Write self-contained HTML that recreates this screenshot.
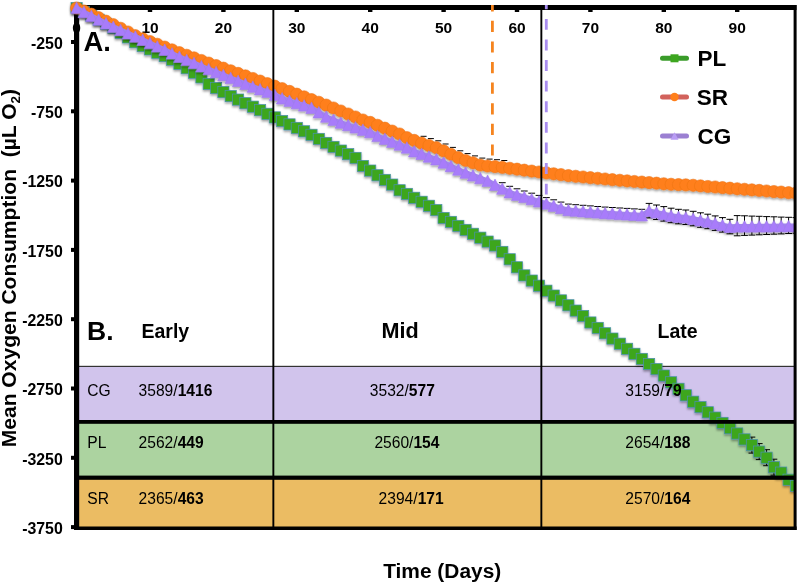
<!DOCTYPE html>
<html><head><meta charset="utf-8"><title>Mean Oxygen Consumption</title>
<style>html,body{margin:0;padding:0;background:#fff}svg{display:block;filter:blur(0.4px)}text{font-family:"Liberation Sans",Arial,sans-serif;fill:#000}.b{font-weight:bold}</style>
</head><body>
<svg width="800" height="583" viewBox="0 0 800 583">
<rect width="800" height="583" fill="#fff"/>
<rect x="77" y="366.5" width="718" height="54" fill="#D1C4EC"/>
<rect x="77" y="423" width="718" height="53" fill="#ACD3A0"/>
<rect x="77" y="479" width="718" height="48" fill="#EBBC63"/>
<rect x="77" y="365.8" width="718" height="1.2" fill="#333"/>
<rect x="74" y="5" width="5.2" height="525" fill="#000"/>
<rect x="74" y="5" width="722.5" height="5" fill="#000"/>
<rect x="147.8" y="9" width="4.4" height="3" fill="#000"/>
<rect x="221.2" y="9" width="4.4" height="3" fill="#000"/>
<rect x="294.6" y="9" width="4.4" height="3" fill="#000"/>
<rect x="368.0" y="9" width="4.4" height="3" fill="#000"/>
<rect x="441.4" y="9" width="4.4" height="3" fill="#000"/>
<rect x="514.8" y="9" width="4.4" height="3" fill="#000"/>
<rect x="588.2" y="9" width="4.4" height="3" fill="#000"/>
<rect x="661.6" y="9" width="4.4" height="3" fill="#000"/>
<rect x="735.0" y="9" width="4.4" height="3" fill="#000"/>
<rect x="71" y="40.0" width="4" height="4" fill="#000"/>
<rect x="71" y="109.3" width="4" height="4" fill="#000"/>
<rect x="71" y="178.6" width="4" height="4" fill="#000"/>
<rect x="71" y="247.9" width="4" height="4" fill="#000"/>
<rect x="71" y="317.2" width="4" height="4" fill="#000"/>
<rect x="71" y="386.5" width="4" height="4" fill="#000"/>
<rect x="71" y="455.8" width="4" height="4" fill="#000"/>
<rect x="71" y="525.1" width="4" height="4" fill="#000"/>
<g class="b" font-size="15.5" text-anchor="middle">
<text x="76.6" y="33">0</text>
<text x="150.0" y="33">10</text>
<text x="223.4" y="33">20</text>
<text x="296.8" y="33">30</text>
<text x="370.2" y="33">40</text>
<text x="443.6" y="33">50</text>
<text x="517.0" y="33">60</text>
<text x="590.4" y="33">70</text>
<text x="663.8" y="33">80</text>
<text x="737.2" y="33">90</text>
</g>
<g class="b" font-size="15.9" text-anchor="end">
<text x="62.8" y="48.7">-250</text>
<text x="62.8" y="118.0">-750</text>
<text x="62.8" y="187.3">-1250</text>
<text x="62.8" y="256.6">-1750</text>
<text x="62.8" y="325.9">-2250</text>
<text x="62.8" y="395.2">-2750</text>
<text x="62.8" y="464.5">-3250</text>
<text x="62.8" y="533.8">-3750</text>
</g>
<defs><clipPath id="cp"><rect x="0" y="0" width="794.5" height="583"/></clipPath><clipPath id="cd"><rect x="0" y="5" width="800" height="578"/></clipPath></defs>
<g stroke="#000" stroke-width="1" fill="none" clip-path="url(#cp)">
<path d="M498.9 182.7h6.8"/>
<path d="M506.3 186.3h6.8"/>
<path d="M513.6 188.8h6.8"/>
<path d="M520.9 191.0h6.8"/>
<path d="M528.3 193.2h6.8"/>
<path d="M535.6 195.4h6.8"/>
<path d="M543.0 197.6h6.8"/>
<path d="M550.3 199.8h6.8"/>
<path d="M557.6 202.1h6.8"/>
<path d="M565.0 204.1h6.8"/>
<path d="M572.3 204.7h6.8"/>
<path d="M579.7 205.3h6.8"/>
<path d="M587.0 205.9h6.8"/>
<path d="M594.3 206.5h6.8"/>
<path d="M601.7 207.1h6.8"/>
<path d="M609.0 207.5h6.8"/>
<path d="M616.4 208.0h6.8"/>
<path d="M623.7 208.4h6.8"/>
<path d="M631.0 208.9h6.8"/>
<path d="M638.4 209.3h6.8"/>
<path d="M645.7 203.4h6.8M645.7 217.9h6.8M649.1 203.4V217.9"/>
<path d="M653.1 205.0h6.8M653.1 219.5h6.8M656.5 205.0V219.5"/>
<path d="M660.4 206.6h6.8M660.4 221.1h6.8M663.8 206.6V221.1"/>
<path d="M667.7 208.2h6.8M667.7 222.7h6.8M671.1 208.2V222.7"/>
<path d="M675.1 209.3h6.8M675.1 223.8h6.8M678.5 209.3V223.8"/>
<path d="M682.4 210.0h6.8M682.4 224.5h6.8M685.8 210.0V224.5"/>
<path d="M689.8 211.3h6.8M689.8 225.8h6.8M693.2 211.3V225.8"/>
<path d="M697.1 212.8h6.8M697.1 227.3h6.8M700.5 212.8V227.3"/>
<path d="M704.4 214.2h6.8M704.4 228.7h6.8M707.8 214.2V228.7"/>
<path d="M711.8 215.9h6.8M711.8 230.4h6.8M715.2 215.9V230.4"/>
<path d="M719.1 217.6h6.8M719.1 232.1h6.8M722.5 217.6V232.1"/>
<path d="M726.5 219.3h6.8M726.5 233.8h6.8M729.9 219.3V233.8"/>
<path d="M733.8 215.6h6.8M733.8 235.8h6.8M737.2 215.6V235.8"/>
<path d="M741.1 215.8h6.8M741.1 235.4h6.8M744.5 215.8V235.4"/>
<path d="M748.5 216.1h6.8M748.5 235.1h6.8M751.9 216.1V235.1"/>
<path d="M755.8 216.3h6.8M755.8 234.8h6.8M759.2 216.3V234.8"/>
<path d="M763.2 216.6h6.8M763.2 234.5h6.8M766.6 216.6V234.5"/>
<path d="M770.5 216.8h6.8M770.5 234.2h6.8M773.9 216.8V234.2"/>
<path d="M777.8 217.1h6.8M777.8 233.9h6.8M781.2 217.1V233.9"/>
<path d="M785.2 217.3h6.8M785.2 233.5h6.8M788.6 217.3V233.5"/>
<path d="M792.5 217.6h6.8M792.5 233.2h6.8M795.9 217.6V233.2"/>
<path d="M420.6 136.3h6.0"/>
<path d="M427.9 138.6h6.0"/>
<path d="M435.3 140.8h6.0"/>
<path d="M442.6 144.0h6.0"/>
<path d="M449.9 147.4h6.0"/>
<path d="M457.3 150.8h6.0"/>
<path d="M464.6 153.6h6.0"/>
<path d="M472.0 155.9h6.0"/>
<path d="M479.3 158.1h6.0"/>
<path d="M486.6 159.1h6.0"/>
<path d="M494.0 159.7h6.0"/>
<path d="M501.3 160.5h6.0"/>
<path d="M748.5 437.1h6.8M748.5 453.1h6.8M751.9 437.1V453.1"/>
<path d="M755.8 443.6h6.8M755.8 459.6h6.8M759.2 443.6V459.6"/>
<path d="M763.2 449.7h6.8M763.2 465.7h6.8M766.6 449.7V465.7"/>
<path d="M770.5 459.2h6.8M770.5 475.2h6.8M773.9 459.2V475.2"/>
</g>
<defs><filter id="sh" x="-5%" y="-5%" width="110%" height="115%"><feDropShadow dx="0" dy="1.6" stdDeviation="1" flood-color="#000" flood-opacity="0.38"/></filter></defs>
<g clip-path="url(#cp)">
<g filter="url(#sh)">
<polyline points="76.6,8.0 83.9,11.9 91.3,15.8 98.6,19.8 106.0,23.8 113.3,27.9 120.6,32.7 128.0,37.4 135.3,42.2 142.7,46.1 150.0,49.4 157.3,52.7 164.7,56.1 172.0,59.7 179.4,63.8 186.7,68.2 194.0,72.7 201.4,77.4 208.7,83.9 216.1,88.0 223.4,92.1 230.7,96.1 238.1,99.6 245.4,103.2 252.8,106.7 260.1,110.2 267.4,113.8 274.8,117.4 282.1,121.0 289.5,124.4 296.8,127.9 304.1,131.3 311.5,134.8 318.8,138.9 326.2,142.9 333.5,146.9 340.8,150.6 348.2,154.2 355.5,157.9 362.9,166.0 370.2,170.6 377.5,175.3 384.9,179.9 392.2,184.6 399.6,190.3 406.9,193.9 414.2,197.8 421.6,201.8 428.9,205.8 436.3,210.1 443.6,218.0 450.9,221.9 458.3,225.9 465.6,229.9 473.0,233.8 480.3,237.7 487.6,241.6 495.0,245.5 502.3,251.9 509.7,259.3 517.0,267.3 524.3,275.4 531.7,280.6 539.0,285.7 546.4,290.7 553.7,295.6 561.0,300.4 568.4,305.3 575.7,310.6 583.1,316.0 590.4,322.5 597.7,327.9 605.1,333.3 612.4,338.6 619.8,343.7 627.1,348.8 634.4,353.8 641.8,358.9 649.1,364.0 656.5,369.1 663.8,375.6 671.1,382.3 678.5,388.8 685.8,395.3 693.2,401.7 700.5,407.1 707.8,412.3 715.2,417.6 722.5,422.9 729.9,428.2 737.2,433.5 744.5,439.4 751.9,445.1 759.2,451.6 766.6,457.7 773.9,467.2 781.2,472.6 788.6,479.7 795.9,485.9" fill="none" stroke="#3A9C2A" stroke-width="5" stroke-linejoin="round"/>
<g fill="#3DA61F" stroke="#4A8FB0" stroke-width="0.7">
<rect x="71.0" y="2.4" width="11.2" height="11.2"/>
<rect x="78.3" y="6.3" width="11.2" height="11.2"/>
<rect x="85.7" y="10.2" width="11.2" height="11.2"/>
<rect x="93.0" y="14.2" width="11.2" height="11.2"/>
<rect x="100.4" y="18.2" width="11.2" height="11.2"/>
<rect x="107.7" y="22.3" width="11.2" height="11.2"/>
<rect x="115.0" y="27.1" width="11.2" height="11.2"/>
<rect x="122.4" y="31.8" width="11.2" height="11.2"/>
<rect x="129.7" y="36.6" width="11.2" height="11.2"/>
<rect x="137.1" y="40.5" width="11.2" height="11.2"/>
<rect x="144.4" y="43.8" width="11.2" height="11.2"/>
<rect x="151.7" y="47.1" width="11.2" height="11.2"/>
<rect x="159.1" y="50.5" width="11.2" height="11.2"/>
<rect x="166.4" y="54.1" width="11.2" height="11.2"/>
<rect x="173.8" y="58.2" width="11.2" height="11.2"/>
<rect x="181.1" y="62.6" width="11.2" height="11.2"/>
<rect x="188.4" y="67.1" width="11.2" height="11.2"/>
<rect x="195.8" y="71.8" width="11.2" height="11.2"/>
<rect x="203.1" y="78.3" width="11.2" height="11.2"/>
<rect x="210.5" y="82.4" width="11.2" height="11.2"/>
<rect x="217.8" y="86.5" width="11.2" height="11.2"/>
<rect x="225.1" y="90.5" width="11.2" height="11.2"/>
<rect x="232.5" y="94.0" width="11.2" height="11.2"/>
<rect x="239.8" y="97.6" width="11.2" height="11.2"/>
<rect x="247.2" y="101.1" width="11.2" height="11.2"/>
<rect x="254.5" y="104.6" width="11.2" height="11.2"/>
<rect x="261.8" y="108.2" width="11.2" height="11.2"/>
<rect x="269.2" y="111.8" width="11.2" height="11.2"/>
<rect x="276.5" y="115.4" width="11.2" height="11.2"/>
<rect x="283.9" y="118.8" width="11.2" height="11.2"/>
<rect x="291.2" y="122.3" width="11.2" height="11.2"/>
<rect x="298.5" y="125.7" width="11.2" height="11.2"/>
<rect x="305.9" y="129.2" width="11.2" height="11.2"/>
<rect x="313.2" y="133.3" width="11.2" height="11.2"/>
<rect x="320.6" y="137.3" width="11.2" height="11.2"/>
<rect x="327.9" y="141.3" width="11.2" height="11.2"/>
<rect x="335.2" y="145.0" width="11.2" height="11.2"/>
<rect x="342.6" y="148.6" width="11.2" height="11.2"/>
<rect x="349.9" y="152.3" width="11.2" height="11.2"/>
<rect x="357.3" y="160.4" width="11.2" height="11.2"/>
<rect x="364.6" y="165.0" width="11.2" height="11.2"/>
<rect x="371.9" y="169.7" width="11.2" height="11.2"/>
<rect x="379.3" y="174.3" width="11.2" height="11.2"/>
<rect x="386.6" y="179.0" width="11.2" height="11.2"/>
<rect x="394.0" y="184.7" width="11.2" height="11.2"/>
<rect x="401.3" y="188.3" width="11.2" height="11.2"/>
<rect x="408.6" y="192.2" width="11.2" height="11.2"/>
<rect x="416.0" y="196.2" width="11.2" height="11.2"/>
<rect x="423.3" y="200.2" width="11.2" height="11.2"/>
<rect x="430.7" y="204.5" width="11.2" height="11.2"/>
<rect x="438.0" y="212.4" width="11.2" height="11.2"/>
<rect x="445.3" y="216.3" width="11.2" height="11.2"/>
<rect x="452.7" y="220.3" width="11.2" height="11.2"/>
<rect x="460.0" y="224.3" width="11.2" height="11.2"/>
<rect x="467.4" y="228.2" width="11.2" height="11.2"/>
<rect x="474.7" y="232.1" width="11.2" height="11.2"/>
<rect x="482.0" y="236.0" width="11.2" height="11.2"/>
<rect x="489.4" y="239.9" width="11.2" height="11.2"/>
<rect x="496.7" y="246.3" width="11.2" height="11.2"/>
<rect x="504.1" y="253.7" width="11.2" height="11.2"/>
<rect x="511.4" y="261.7" width="11.2" height="11.2"/>
<rect x="518.7" y="269.8" width="11.2" height="11.2"/>
<rect x="526.1" y="275.0" width="11.2" height="11.2"/>
<rect x="533.4" y="280.1" width="11.2" height="11.2"/>
<rect x="540.8" y="285.1" width="11.2" height="11.2"/>
<rect x="548.1" y="290.0" width="11.2" height="11.2"/>
<rect x="555.4" y="294.8" width="11.2" height="11.2"/>
<rect x="562.8" y="299.7" width="11.2" height="11.2"/>
<rect x="570.1" y="305.0" width="11.2" height="11.2"/>
<rect x="577.5" y="310.4" width="11.2" height="11.2"/>
<rect x="584.8" y="316.9" width="11.2" height="11.2"/>
<rect x="592.1" y="322.3" width="11.2" height="11.2"/>
<rect x="599.5" y="327.7" width="11.2" height="11.2"/>
<rect x="606.8" y="333.0" width="11.2" height="11.2"/>
<rect x="614.2" y="338.1" width="11.2" height="11.2"/>
<rect x="621.5" y="343.2" width="11.2" height="11.2"/>
<rect x="628.8" y="348.2" width="11.2" height="11.2"/>
<rect x="636.2" y="353.3" width="11.2" height="11.2"/>
<rect x="643.5" y="358.4" width="11.2" height="11.2"/>
<rect x="650.9" y="363.5" width="11.2" height="11.2"/>
<rect x="658.2" y="370.0" width="11.2" height="11.2"/>
<rect x="665.5" y="376.7" width="11.2" height="11.2"/>
<rect x="672.9" y="383.2" width="11.2" height="11.2"/>
<rect x="680.2" y="389.7" width="11.2" height="11.2"/>
<rect x="687.6" y="396.1" width="11.2" height="11.2"/>
<rect x="694.9" y="401.5" width="11.2" height="11.2"/>
<rect x="702.2" y="406.7" width="11.2" height="11.2"/>
<rect x="709.6" y="412.0" width="11.2" height="11.2"/>
<rect x="716.9" y="417.3" width="11.2" height="11.2"/>
<rect x="724.3" y="422.6" width="11.2" height="11.2"/>
<rect x="731.6" y="427.9" width="11.2" height="11.2"/>
<rect x="738.9" y="433.8" width="11.2" height="11.2"/>
<rect x="746.3" y="439.5" width="11.2" height="11.2"/>
<rect x="753.6" y="446.0" width="11.2" height="11.2"/>
<rect x="761.0" y="452.1" width="11.2" height="11.2"/>
<rect x="768.3" y="461.6" width="11.2" height="11.2"/>
<rect x="775.6" y="467.0" width="11.2" height="11.2"/>
<rect x="783.0" y="474.1" width="11.2" height="11.2"/>
<rect x="790.3" y="480.3" width="11.2" height="11.2"/>
</g></g>
<g filter="url(#sh)">
<polyline points="76.6,8.0 83.9,11.0 91.3,14.2 98.6,17.7 106.0,21.2 113.3,24.7 120.6,28.3 128.0,32.0 135.3,35.7 142.7,38.8 150.0,41.6 157.3,44.3 164.7,47.1 172.0,49.9 179.4,52.7 186.7,55.3 194.0,57.9 201.4,60.5 208.7,63.1 216.1,65.6 223.4,68.2 230.7,70.8 238.1,73.4 245.4,75.9 252.8,78.5 260.1,81.1 267.4,83.7 274.8,86.2 282.1,88.7 289.5,91.4 296.8,94.2 304.1,96.9 311.5,99.6 318.8,102.3 326.2,105.1 333.5,108.0 340.8,111.0 348.2,114.0 355.5,117.0 362.9,120.0 370.2,122.4 377.5,125.3 384.9,128.2 392.2,131.1 399.6,134.0 406.9,137.7 414.2,140.4 421.6,143.2 428.9,145.5 436.3,147.7 443.6,150.9 450.9,154.3 458.3,157.7 465.6,160.5 473.0,162.8 480.3,165.0 487.6,166.0 495.0,166.6 502.3,167.4 509.7,168.3 517.0,169.2 524.3,170.2 531.7,171.1 539.0,172.0 546.4,172.9 553.7,173.8 561.0,174.7 568.4,175.6 575.7,176.3 583.1,177.0 590.4,177.7 597.7,178.3 605.1,179.0 612.4,179.7 619.8,180.3 627.1,180.9 634.4,181.5 641.8,182.1 649.1,182.6 656.5,183.2 663.8,183.8 671.1,184.3 678.5,184.6 685.8,184.9 693.2,185.3 700.5,185.9 707.8,186.5 715.2,187.0 722.5,187.6 729.9,188.2 737.2,188.8 744.5,189.3 751.9,189.9 759.2,190.4 766.6,191.0 773.9,191.6 781.2,192.1 788.6,192.7 795.9,193.2" fill="none" stroke="#D2625C" stroke-width="5" stroke-linejoin="round"/>
<g fill="#FF7F1B" stroke="#EE761A" stroke-width="0.6">
<circle cx="76.6" cy="8.0" r="6.1"/>
<circle cx="83.9" cy="11.0" r="6.1"/>
<circle cx="91.3" cy="14.2" r="6.1"/>
<circle cx="98.6" cy="17.7" r="6.1"/>
<circle cx="106.0" cy="21.2" r="6.1"/>
<circle cx="113.3" cy="24.7" r="6.1"/>
<circle cx="120.6" cy="28.3" r="6.1"/>
<circle cx="128.0" cy="32.0" r="6.1"/>
<circle cx="135.3" cy="35.7" r="6.1"/>
<circle cx="142.7" cy="38.8" r="6.1"/>
<circle cx="150.0" cy="41.6" r="6.1"/>
<circle cx="157.3" cy="44.3" r="6.1"/>
<circle cx="164.7" cy="47.1" r="6.1"/>
<circle cx="172.0" cy="49.9" r="6.1"/>
<circle cx="179.4" cy="52.7" r="6.1"/>
<circle cx="186.7" cy="55.3" r="6.1"/>
<circle cx="194.0" cy="57.9" r="6.1"/>
<circle cx="201.4" cy="60.5" r="6.1"/>
<circle cx="208.7" cy="63.1" r="6.1"/>
<circle cx="216.1" cy="65.6" r="6.1"/>
<circle cx="223.4" cy="68.2" r="6.1"/>
<circle cx="230.7" cy="70.8" r="6.1"/>
<circle cx="238.1" cy="73.4" r="6.1"/>
<circle cx="245.4" cy="75.9" r="6.1"/>
<circle cx="252.8" cy="78.5" r="6.1"/>
<circle cx="260.1" cy="81.1" r="6.1"/>
<circle cx="267.4" cy="83.7" r="6.1"/>
<circle cx="274.8" cy="86.2" r="6.1"/>
<circle cx="282.1" cy="88.7" r="6.1"/>
<circle cx="289.5" cy="91.4" r="6.1"/>
<circle cx="296.8" cy="94.2" r="6.1"/>
<circle cx="304.1" cy="96.9" r="6.1"/>
<circle cx="311.5" cy="99.6" r="6.1"/>
<circle cx="318.8" cy="102.3" r="6.1"/>
<circle cx="326.2" cy="105.1" r="6.1"/>
<circle cx="333.5" cy="108.0" r="6.1"/>
<circle cx="340.8" cy="111.0" r="6.1"/>
<circle cx="348.2" cy="114.0" r="6.1"/>
<circle cx="355.5" cy="117.0" r="6.1"/>
<circle cx="362.9" cy="120.0" r="6.1"/>
<circle cx="370.2" cy="122.4" r="6.1"/>
<circle cx="377.5" cy="125.3" r="6.1"/>
<circle cx="384.9" cy="128.2" r="6.1"/>
<circle cx="392.2" cy="131.1" r="6.1"/>
<circle cx="399.6" cy="134.0" r="6.1"/>
<circle cx="406.9" cy="137.7" r="6.1"/>
<circle cx="414.2" cy="140.4" r="6.1"/>
<circle cx="421.6" cy="143.2" r="6.1"/>
<circle cx="428.9" cy="145.5" r="6.1"/>
<circle cx="436.3" cy="147.7" r="6.1"/>
<circle cx="443.6" cy="150.9" r="6.1"/>
<circle cx="450.9" cy="154.3" r="6.1"/>
<circle cx="458.3" cy="157.7" r="6.1"/>
<circle cx="465.6" cy="160.5" r="6.1"/>
<circle cx="473.0" cy="162.8" r="6.1"/>
<circle cx="480.3" cy="165.0" r="6.1"/>
<circle cx="487.6" cy="166.0" r="6.1"/>
<circle cx="495.0" cy="166.6" r="6.1"/>
<circle cx="502.3" cy="167.4" r="6.1"/>
<circle cx="509.7" cy="168.3" r="6.1"/>
<circle cx="517.0" cy="169.2" r="6.1"/>
<circle cx="524.3" cy="170.2" r="6.1"/>
<circle cx="531.7" cy="171.1" r="6.1"/>
<circle cx="539.0" cy="172.0" r="6.1"/>
<circle cx="546.4" cy="172.9" r="6.1"/>
<circle cx="553.7" cy="173.8" r="6.1"/>
<circle cx="561.0" cy="174.7" r="6.1"/>
<circle cx="568.4" cy="175.6" r="6.1"/>
<circle cx="575.7" cy="176.3" r="6.1"/>
<circle cx="583.1" cy="177.0" r="6.1"/>
<circle cx="590.4" cy="177.7" r="6.1"/>
<circle cx="597.7" cy="178.3" r="6.1"/>
<circle cx="605.1" cy="179.0" r="6.1"/>
<circle cx="612.4" cy="179.7" r="6.1"/>
<circle cx="619.8" cy="180.3" r="6.1"/>
<circle cx="627.1" cy="180.9" r="6.1"/>
<circle cx="634.4" cy="181.5" r="6.1"/>
<circle cx="641.8" cy="182.1" r="6.1"/>
<circle cx="649.1" cy="182.6" r="6.1"/>
<circle cx="656.5" cy="183.2" r="6.1"/>
<circle cx="663.8" cy="183.8" r="6.1"/>
<circle cx="671.1" cy="184.3" r="6.1"/>
<circle cx="678.5" cy="184.6" r="6.1"/>
<circle cx="685.8" cy="184.9" r="6.1"/>
<circle cx="693.2" cy="185.3" r="6.1"/>
<circle cx="700.5" cy="185.9" r="6.1"/>
<circle cx="707.8" cy="186.5" r="6.1"/>
<circle cx="715.2" cy="187.0" r="6.1"/>
<circle cx="722.5" cy="187.6" r="6.1"/>
<circle cx="729.9" cy="188.2" r="6.1"/>
<circle cx="737.2" cy="188.8" r="6.1"/>
<circle cx="744.5" cy="189.3" r="6.1"/>
<circle cx="751.9" cy="189.9" r="6.1"/>
<circle cx="759.2" cy="190.4" r="6.1"/>
<circle cx="766.6" cy="191.0" r="6.1"/>
<circle cx="773.9" cy="191.6" r="6.1"/>
<circle cx="781.2" cy="192.1" r="6.1"/>
<circle cx="788.6" cy="192.7" r="6.1"/>
<circle cx="795.9" cy="193.2" r="6.1"/>
</g></g>
<g filter="url(#sh)">
<polyline points="76.6,8.0 83.9,12.1 91.3,16.0 98.6,19.6 106.0,23.3 113.3,26.9 120.6,30.1 128.0,33.4 135.3,36.6 142.7,39.9 150.0,43.2 157.3,46.5 164.7,49.8 172.0,53.5 179.4,56.9 186.7,60.0 194.0,63.1 201.4,66.3 208.7,69.2 216.1,72.1 223.4,75.1 230.7,78.0 238.1,80.9 245.4,83.9 252.8,86.7 260.1,89.3 267.4,91.8 274.8,94.8 282.1,98.4 289.5,100.8 296.8,103.2 304.1,105.5 311.5,107.9 318.8,112.3 326.2,116.7 333.5,119.8 340.8,122.7 348.2,125.1 355.5,127.4 362.9,129.8 370.2,132.2 377.5,136.0 384.9,138.9 392.2,141.8 399.6,144.6 406.9,147.6 414.2,151.3 421.6,153.9 428.9,156.6 436.3,159.3 443.6,162.6 450.9,166.1 458.3,169.6 465.6,172.7 473.0,175.4 480.3,178.2 487.6,180.8 495.0,184.9 502.3,188.7 509.7,192.3 517.0,194.8 524.3,197.0 531.7,199.2 539.0,201.4 546.4,203.6 553.7,205.8 561.0,208.1 568.4,210.1 575.7,210.7 583.1,211.3 590.4,211.9 597.7,212.5 605.1,213.1 612.4,213.5 619.8,214.0 627.1,214.4 634.4,214.9 641.8,215.3 649.1,210.9 656.5,212.5 663.8,214.1 671.1,215.7 678.5,216.8 685.8,217.5 693.2,218.8 700.5,220.3 707.8,221.7 715.2,223.4 722.5,225.1 729.9,226.8 737.2,226.5 744.5,226.4 751.9,226.4 759.2,226.3 766.6,226.3 773.9,226.2 781.2,226.1 788.6,226.1 795.9,226.0" fill="none" stroke="#A283EE" stroke-width="5" stroke-linejoin="round"/>
<g fill="#A87CFA" stroke="#9E7AEC" stroke-width="0.6">
<path d="M76.6 2.2L82.3 13.6H70.9Z"/>
<path d="M83.9 6.3L89.6 17.7H78.2Z"/>
<path d="M91.3 10.2L97.0 21.6H85.6Z"/>
<path d="M98.6 13.8L104.3 25.2H92.9Z"/>
<path d="M106.0 17.5L111.7 28.9H100.3Z"/>
<path d="M113.3 21.1L119.0 32.5H107.6Z"/>
<path d="M120.6 24.3L126.3 35.7H114.9Z"/>
<path d="M128.0 27.6L133.7 39.0H122.3Z"/>
<path d="M135.3 30.8L141.0 42.2H129.6Z"/>
<path d="M142.7 34.1L148.4 45.5H137.0Z"/>
<path d="M150.0 37.4L155.7 48.8H144.3Z"/>
<path d="M157.3 40.7L163.0 52.1H151.6Z"/>
<path d="M164.7 44.0L170.4 55.4H159.0Z"/>
<path d="M172.0 47.7L177.7 59.1H166.3Z"/>
<path d="M179.4 51.1L185.1 62.5H173.7Z"/>
<path d="M186.7 54.2L192.4 65.6H181.0Z"/>
<path d="M194.0 57.3L199.7 68.7H188.3Z"/>
<path d="M201.4 60.5L207.1 71.9H195.7Z"/>
<path d="M208.7 63.4L214.4 74.8H203.0Z"/>
<path d="M216.1 66.3L221.8 77.7H210.4Z"/>
<path d="M223.4 69.3L229.1 80.7H217.7Z"/>
<path d="M230.7 72.2L236.4 83.6H225.0Z"/>
<path d="M238.1 75.1L243.8 86.5H232.4Z"/>
<path d="M245.4 78.1L251.1 89.5H239.7Z"/>
<path d="M252.8 80.9L258.5 92.3H247.1Z"/>
<path d="M260.1 83.5L265.8 94.9H254.4Z"/>
<path d="M267.4 86.0L273.1 97.4H261.7Z"/>
<path d="M274.8 89.0L280.5 100.4H269.1Z"/>
<path d="M282.1 92.6L287.8 104.0H276.4Z"/>
<path d="M289.5 95.0L295.2 106.4H283.8Z"/>
<path d="M296.8 97.4L302.5 108.8H291.1Z"/>
<path d="M304.1 99.7L309.8 111.1H298.4Z"/>
<path d="M311.5 102.1L317.2 113.5H305.8Z"/>
<path d="M318.8 106.5L324.5 117.9H313.1Z"/>
<path d="M326.2 110.9L331.9 122.3H320.5Z"/>
<path d="M333.5 114.0L339.2 125.4H327.8Z"/>
<path d="M340.8 116.9L346.5 128.3H335.1Z"/>
<path d="M348.2 119.3L353.9 130.7H342.5Z"/>
<path d="M355.5 121.6L361.2 133.0H349.8Z"/>
<path d="M362.9 124.0L368.6 135.4H357.2Z"/>
<path d="M370.2 126.4L375.9 137.8H364.5Z"/>
<path d="M377.5 130.2L383.2 141.6H371.8Z"/>
<path d="M384.9 133.1L390.6 144.5H379.2Z"/>
<path d="M392.2 136.0L397.9 147.4H386.5Z"/>
<path d="M399.6 138.8L405.3 150.2H393.9Z"/>
<path d="M406.9 141.8L412.6 153.2H401.2Z"/>
<path d="M414.2 145.5L419.9 156.9H408.5Z"/>
<path d="M421.6 148.1L427.3 159.5H415.9Z"/>
<path d="M428.9 150.8L434.6 162.2H423.2Z"/>
<path d="M436.3 153.5L442.0 164.9H430.6Z"/>
<path d="M443.6 156.8L449.3 168.2H437.9Z"/>
<path d="M450.9 160.3L456.6 171.7H445.2Z"/>
<path d="M458.3 163.8L464.0 175.2H452.6Z"/>
<path d="M465.6 166.9L471.3 178.3H459.9Z"/>
<path d="M473.0 169.6L478.7 181.0H467.3Z"/>
<path d="M480.3 172.4L486.0 183.8H474.6Z"/>
<path d="M487.6 175.0L493.3 186.4H481.9Z"/>
<path d="M495.0 179.1L500.7 190.5H489.3Z"/>
<path d="M502.3 182.9L508.0 194.3H496.6Z"/>
<path d="M509.7 186.5L515.4 197.9H504.0Z"/>
<path d="M517.0 189.0L522.7 200.4H511.3Z"/>
<path d="M524.3 191.2L530.0 202.6H518.6Z"/>
<path d="M531.7 193.4L537.4 204.8H526.0Z"/>
<path d="M539.0 195.6L544.7 207.0H533.3Z"/>
<path d="M546.4 197.8L552.1 209.2H540.7Z"/>
<path d="M553.7 200.0L559.4 211.4H548.0Z"/>
<path d="M561.0 202.3L566.7 213.7H555.3Z"/>
<path d="M568.4 204.3L574.1 215.7H562.7Z"/>
<path d="M575.7 204.9L581.4 216.3H570.0Z"/>
<path d="M583.1 205.5L588.8 216.9H577.4Z"/>
<path d="M590.4 206.1L596.1 217.5H584.7Z"/>
<path d="M597.7 206.7L603.4 218.1H592.0Z"/>
<path d="M605.1 207.3L610.8 218.7H599.4Z"/>
<path d="M612.4 207.7L618.1 219.1H606.7Z"/>
<path d="M619.8 208.2L625.5 219.6H614.1Z"/>
<path d="M627.1 208.6L632.8 220.0H621.4Z"/>
<path d="M634.4 209.1L640.1 220.5H628.7Z"/>
<path d="M641.8 209.5L647.5 220.9H636.1Z"/>
<path d="M649.1 205.1L654.8 216.5H643.4Z"/>
<path d="M656.5 206.7L662.2 218.1H650.8Z"/>
<path d="M663.8 208.3L669.5 219.7H658.1Z"/>
<path d="M671.1 209.9L676.8 221.3H665.4Z"/>
<path d="M678.5 211.0L684.2 222.4H672.8Z"/>
<path d="M685.8 211.7L691.5 223.1H680.1Z"/>
<path d="M693.2 213.0L698.9 224.4H687.5Z"/>
<path d="M700.5 214.5L706.2 225.9H694.8Z"/>
<path d="M707.8 215.9L713.5 227.3H702.1Z"/>
<path d="M715.2 217.6L720.9 229.0H709.5Z"/>
<path d="M722.5 219.3L728.2 230.7H716.8Z"/>
<path d="M729.9 221.0L735.6 232.4H724.2Z"/>
<path d="M737.2 220.7L742.9 232.1H731.5Z"/>
<path d="M744.5 220.6L750.2 232.0H738.8Z"/>
<path d="M751.9 220.6L757.6 232.0H746.2Z"/>
<path d="M759.2 220.5L764.9 231.9H753.5Z"/>
<path d="M766.6 220.5L772.3 231.9H760.9Z"/>
<path d="M773.9 220.4L779.6 231.8H768.2Z"/>
<path d="M781.2 220.3L786.9 231.7H775.5Z"/>
<path d="M788.6 220.3L794.3 231.7H782.9Z"/>
<path d="M795.9 220.2L801.6 231.6H790.2Z"/>
</g></g>
</g>
<rect x="272.4" y="9" width="1.9" height="519" fill="#000"/>
<rect x="540.4" y="9" width="1.9" height="519" fill="#000"/>
<line x1="492.4" y1="0.2" x2="492.4" y2="155.6" stroke="#F5841F" stroke-width="2.8" stroke-dasharray="11.2 9.4" clip-path="url(#cd)"/>
<line x1="546.3" y1="-1.7" x2="546.3" y2="194.4" stroke="#A98DF0" stroke-width="2.8" stroke-dasharray="10.9 9.7" clip-path="url(#cd)"/>
<rect x="77" y="420" width="719" height="3.8" fill="#000"/>
<rect x="77" y="475.6" width="719" height="4.2" fill="#000"/>
<rect x="793.6" y="5" width="3" height="525" fill="#000"/>
<rect x="74" y="526.5" width="722.6" height="3.5" fill="#000"/>
<g stroke-linecap="round" stroke-width="5">
<line x1="662.5" y1="58.3" x2="686.5" y2="58.3" stroke="#3A9C2A"/>
<line x1="662.5" y1="97" x2="686.5" y2="97" stroke="#D2625C"/>
<line x1="662.5" y1="136" x2="686.5" y2="136" stroke="#9B80D2"/>
</g>
<rect x="670.5" y="54.3" width="8" height="8" fill="#3DA61F"/>
<circle cx="674.5" cy="97" r="4.2" fill="#FF7F1B"/>
<path d="M674.5 132.2l4 7.6h-8z" fill="#B99CF5"/>
<g class="b" font-size="22.5">
<text x="697.5" y="66.2">PL</text>
<text x="696.8" y="105.2">SR</text>
<text x="697.5" y="144">CG</text>
</g>
<text class="b" font-size="27.4" x="83.5" y="51.2">A.</text>
<text class="b" font-size="26.5" x="87" y="340">B.</text>
<g class="b">
<text font-size="19.5" x="141.5" y="337.6">Early</text>
<text font-size="21.6" x="381.6" y="337.6">Mid</text>
<text font-size="19.5" x="657.5" y="338.4">Late</text>
</g>
<g font-size="15.6">
<text x="87.3" y="395.5">CG</text>
<text x="138.6" y="395.5">3589/<tspan class="b">1416</tspan></text>
<text x="369.8" y="395.5">3532/<tspan class="b">577</tspan></text>
<text x="625.3" y="395.5">3159/<tspan class="b">79</tspan></text>
<text x="87.3" y="448.2">PL</text>
<text x="138.6" y="448.2">2562/<tspan class="b">449</tspan></text>
<text x="374.4" y="448.2">2560/<tspan class="b">154</tspan></text>
<text x="625.3" y="448.2">2654/<tspan class="b">188</tspan></text>
<text x="87.3" y="503.8">SR</text>
<text x="138.6" y="503.8">2365/<tspan class="b">463</tspan></text>
<text x="378.6" y="503.8">2394/<tspan class="b">171</tspan></text>
<text x="625.3" y="503.8">2570/<tspan class="b">164</tspan></text>
</g>
<text class="b" font-size="20.9" x="383.2" y="577.6">Time (Days)</text>
<text class="b" font-size="21.05" transform="translate(15.6 447.3) rotate(-90)" xml:space="preserve">Mean Oxygen Consumption  (µL O<tspan font-size="13.5" dy="4">2</tspan><tspan dy="-4">)</tspan></text>
</svg></body></html>
